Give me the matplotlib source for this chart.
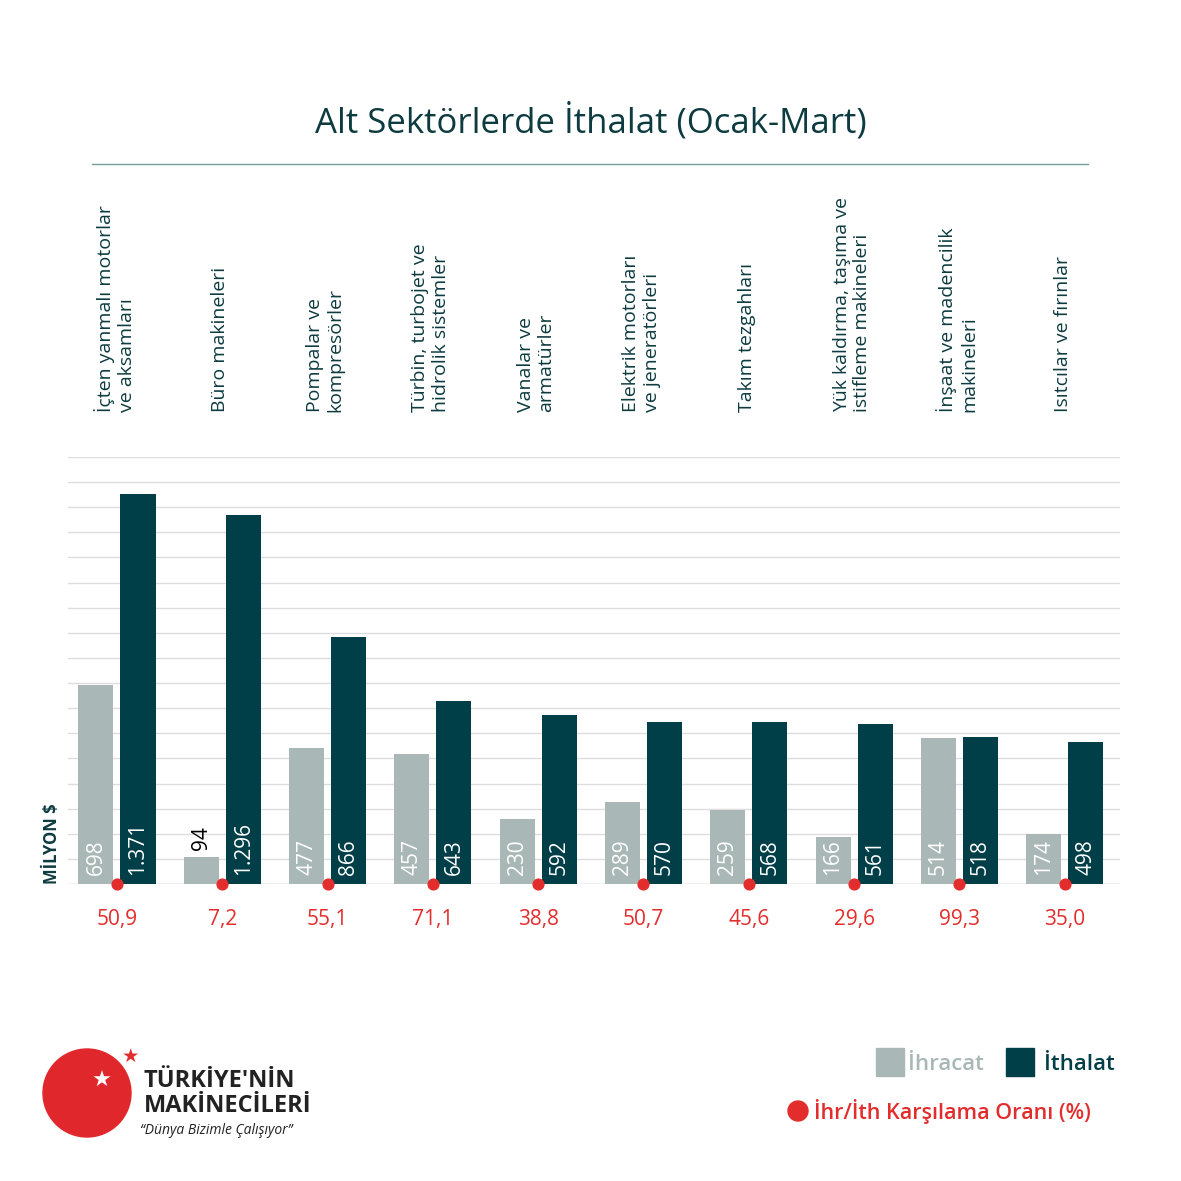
import matplotlib
matplotlib.use("Agg")
import matplotlib.pyplot as plt
import numpy as np
import matplotlib.transforms as mt
from matplotlib.patches import Circle, Rectangle

cats = ["İçten yanmalı motorlar\nve aksamları", "Büro makineleri", "Pompalar ve\nkompresörler",
        "Türbin, turbojet ve\nhidrolik sistemler", "Vanalar ve\narmatürler", "Elektrik motorları\nve jeneratörleri",
        "Takım tezgahları", "Yük kaldırma, taşıma ve\nistifleme makineleri", "İnşaat ve madencilik\nmakineleri",
        "Isıtcılar ve fırınlar"]
ihracat = [698, 94, 477, 457, 230, 289, 259, 166, 514, 174]
ithalat = [1371, 1296, 866, 643, 592, 570, 568, 561, 518, 498]
oran = ["50,9", "7,2", "55,1", "71,1", "38,8", "50,7", "45,6", "29,6", "99,3", "35,0"]

C1, C2, RED, DARK = "#a9b8b6", "#003f47", "#e32d2d", "#0d3b40"
plt.rcParams['font.family'] = ['Open Sans', 'DejaVu Sans']
fig = plt.figure(figsize=(11.81, 11.81), dpi=100)
ax = fig.add_axes([68/1181, 1-884/1181, 1052/1181, 427/1181])
x = np.arange(len(cats))
w = 0.333
ax.bar(x-0.2, ihracat, w, color=C1, zorder=2)
ax.bar(x+0.2, ithalat, w, color=C2, zorder=2)
ax.set_xlim(-0.465, 9.525); ax.set_ylim(0, 1500)
ax.set_yticks(np.linspace(0, 1500, 18))
ax.grid(axis='y', color='#dddddd', lw=1, zorder=0)
ax.tick_params(left=False, bottom=False, labelleft=False, labelbottom=False)
for s in ax.spines.values(): s.set_visible(False)
ax.axhline(0, color='#cccccc', lw=1, zorder=1)
ax.scatter(x, np.zeros(len(x)), s=60, color=RED, zorder=4, clip_on=False)
trans = mt.blended_transform_factory(ax.transData, fig.transFigure)
for i in x:
    v = ihracat[i]
    if v < 150:
        ax.text(i-0.2, v+25, str(v), rotation=90, ha='center', va='bottom', fontsize=15, color='black')
    else:
        ax.text(i-0.2, 30, str(v), rotation=90, ha='center', va='bottom', fontsize=15, color='white', zorder=5)
    ax.text(i+0.2, 30, f"{ithalat[i]:,}".replace(",", "."), rotation=90, ha='center', va='bottom', fontsize=15, color='white', zorder=5)
    ax.text(i, -125, oran[i], ha='center', va='center', fontsize=15, color=RED)
    ax.text(i-0.02, 1-412/1181, cats[i], rotation=90, ha='center', va='bottom', fontsize=14, color=DARK,
            transform=trans, linespacing=1.2, multialignment='left')
ax.text(-0.62, 0, "MİLYON $", rotation=90, ha='center', va='bottom', fontsize=12, color=DARK, fontweight='bold')

fig.text(0.5, 1-122/1181, "Alt Sektörlerde İthalat (Ocak-Mart)", ha='center', va='center', fontsize=25, color=DARK)
fig.add_artist(plt.Line2D([92/1181, 1088/1181], [1-164/1181]*2, color='#7a9a9a', lw=1))

# legend
fig.add_artist(Rectangle((876/1181, 1-1076/1181), 28/1181, 28/1181, color=C1, transform=fig.transFigure))
fig.text(908/1181, 1-1064/1181, "İhracat", fontsize=16, color=C1, va='center', fontweight='semibold')
fig.add_artist(Rectangle((1006/1181, 1-1076/1181), 28/1181, 28/1181, color=C2, transform=fig.transFigure))
fig.text(1044/1181, 1-1064/1181, "İthalat", fontsize=16, color=C2, va='center', fontweight='semibold')
fig.add_artist(Circle((798/1181, 1-1111/1181), 10/1181, color=RED, transform=fig.transFigure))
fig.text(814/1181, 1-1111/1181, "İhr/İth Karşılama Oranı (%)", fontsize=15.5, color=RED, va='center', fontweight='semibold')

# logo
fig.add_artist(Circle((87/1181, 1-1093/1181), 44/1181, color='#e0282c', transform=fig.transFigure))
fig.text(102/1181, 1-1081/1181, "★", fontsize=16, color='white', ha='center', va='center')
fig.text(130/1181, 1-1057/1181, "★", fontsize=14, color=RED, ha='center', va='center')
fig.text(144/1181, 1-1081/1181, "TÜRKİYE'NİN", fontsize=17, color='#222222', va='center', fontweight='bold')
fig.text(144/1181, 1-1106/1181, "MAKİNECİLERİ", fontsize=17, color='#222222', va='center', fontweight='bold')
fig.text(140/1181, 1-1131/1181, "\u201cDünya Bizimle Çalışıyor\u201d", fontsize=10, color='#222222', va='center', style='italic')

fig.savefig("out.png", dpi=100, facecolor='white')
